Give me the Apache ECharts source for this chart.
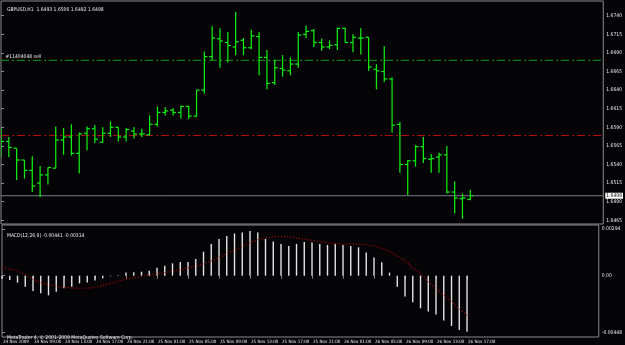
<!DOCTYPE html>
<html>
<head>
<meta charset="utf-8">
<script src="https://cdn.jsdelivr.net/npm/echarts@6/dist/echarts.min.js"></script>
<style>
html,body{margin:0;padding:0;background:#040306;}
#chart{width:625px;height:345px;}
</style>
</head>
<body>
<div id="chart"></div>
<script>
var symbolTitle = 'GBPUSD,H1';
var times = [
 '24 Nov 05:00','24 Nov 06:00','24 Nov 07:00','24 Nov 08:00','24 Nov 09:00','24 Nov 10:00','24 Nov 11:00','24 Nov 12:00',
 '24 Nov 13:00','24 Nov 14:00','24 Nov 15:00','24 Nov 16:00','24 Nov 17:00','24 Nov 18:00','24 Nov 19:00','24 Nov 20:00',
 '24 Nov 21:00','24 Nov 22:00','24 Nov 23:00',
 '25 Nov 00:00','25 Nov 01:00','25 Nov 02:00','25 Nov 03:00','25 Nov 04:00','25 Nov 05:00','25 Nov 06:00','25 Nov 07:00',
 '25 Nov 08:00','25 Nov 09:00','25 Nov 10:00','25 Nov 11:00','25 Nov 12:00','25 Nov 13:00','25 Nov 14:00','25 Nov 15:00',
 '25 Nov 16:00','25 Nov 17:00','25 Nov 18:00','25 Nov 19:00','25 Nov 20:00','25 Nov 21:00','25 Nov 22:00','25 Nov 23:00',
 '26 Nov 00:00','26 Nov 01:00','26 Nov 02:00','26 Nov 03:00','26 Nov 04:00','26 Nov 05:00','26 Nov 06:00','26 Nov 07:00',
 '26 Nov 08:00','26 Nov 09:00','26 Nov 10:00','26 Nov 11:00','26 Nov 12:00','26 Nov 13:00','26 Nov 14:00','26 Nov 15:00',
 '26 Nov 16:00','26 Nov 17:00'
];
var firstTimeLabel = '24 Nov 2009';
var opens = [1.6560,1.6571,1.6562,1.6546,1.6532,1.6515,1.6526,1.6535,1.6573,1.6577,
 1.6555,1.6582,1.6588,1.6570,1.6582,1.6590,1.6577,1.6585,1.6581,1.6580,
 1.6594,1.6610,1.6613,1.6610,1.6618,1.6605,1.6640,1.6685,1.6709,1.6704,
 1.6698,1.6707,1.6697,1.6712,1.6684,1.6650,1.6669,1.6666,1.6675,1.6715,
 1.6720,1.6704,1.6698,1.6701,1.6723,1.6704,1.6710,1.6711,1.6668,1.6665,
 1.6655,1.6594,1.6540,1.6545,1.6564,1.6547,1.6550,1.6553,1.6503,1.6494,1.6493];
var highs = [1.6589,1.6577,1.6562,1.6546,1.6551,1.6538,1.6536,1.6591,1.6589,1.6594,
 1.6583,1.6591,1.6593,1.6590,1.6598,1.6590,1.6589,1.6590,1.6588,1.6606,
 1.6618,1.6617,1.6616,1.6619,1.6619,1.6640,1.6692,1.6726,1.6723,1.6718,
 1.6745,1.6710,1.6721,1.6718,1.6694,1.6681,1.6687,1.6684,1.6718,1.6727,
 1.6722,1.6709,1.6707,1.6724,1.6724,1.6715,1.6723,1.6711,1.6675,1.6699,
 1.6657,1.6597,1.6546,1.6566,1.6577,1.6554,1.6556,1.6565,1.6517,1.6501,1.6506];
var lows = [1.6550,1.6550,1.6519,1.6521,1.6503,1.6496,1.6513,1.6535,1.6553,1.6552,
 1.6528,1.6559,1.6569,1.6569,1.6577,1.6571,1.6571,1.6575,1.6577,1.6579,
 1.6591,1.6606,1.6606,1.6602,1.6601,1.6604,1.6635,1.6680,1.6670,1.6677,
 1.6687,1.6687,1.6695,1.6660,1.6641,1.6647,1.6658,1.6660,1.6670,1.6710,
 1.6698,1.6693,1.6695,1.6694,1.6704,1.6691,1.6688,1.6666,1.6641,1.6651,
 1.6583,1.6529,1.6499,1.6537,1.6542,1.6529,1.6529,1.6501,1.6474,1.6467,1.6492];
var closes = [1.6571,1.6563,1.6546,1.6532,1.6511,1.6526,1.6536,1.6573,1.6577,1.6555,
 1.6581,1.6588,1.6574,1.6582,1.6590,1.6577,1.6587,1.6581,1.6581,1.6594,
 1.6610,1.6612,1.6610,1.6618,1.6605,1.6640,1.6685,1.6710,1.6706,1.6700,
 1.6705,1.6697,1.6713,1.6684,1.6649,1.6670,1.6667,1.6675,1.6714,1.6719,
 1.6704,1.6698,1.6700,1.6723,1.6704,1.6711,1.6710,1.6671,1.6666,1.6655,
 1.6593,1.6540,1.6545,1.6564,1.6548,1.6548,1.6553,1.6503,1.6495,1.6495,1.6498];
var macdMain = [-0.00024,-0.00034,-0.00055,-0.00087,-0.00120,-0.00139,-0.00155,-0.00126,-0.00100,-0.00087,
 -0.00061,-0.00053,-0.00039,-0.00021,-0.00004,0.00004,0.00024,0.00026,0.00031,0.00039,
 0.00063,0.00079,0.00097,0.00108,0.00108,0.00131,0.00189,0.00250,0.00289,0.00313,
 0.00333,0.00339,0.00352,0.00339,0.00289,0.00270,0.00250,0.00234,0.00250,0.00265,
 0.00262,0.00250,0.00242,0.00250,0.00242,0.00234,0.00223,0.00183,0.00144,0.00105,
 0.00024,-0.00087,-0.00165,-0.00210,-0.00257,-0.00283,-0.00305,-0.00354,-0.00396,-0.00428,-0.00441];
var macdSignal = [0.00063,0.00051,0.00039,0.00008,-0.00028,-0.00055,-0.00071,-0.00083,-0.00091,-0.00097,
 -0.00100,-0.00098,-0.00093,-0.00079,-0.00059,-0.00043,-0.00029,-0.00017,-0.00006,0.00006,
 0.00016,0.00024,0.00035,0.00047,0.00061,0.00076,0.00094,0.00116,0.00142,0.00173,
 0.00201,0.00232,0.00260,0.00283,0.00295,0.00307,0.00309,0.00307,0.00295,0.00287,
 0.00278,0.00268,0.00257,0.00252,0.00250,0.00250,0.00250,0.00244,0.00232,0.00217,
 0.00189,0.00157,0.00118,0.00063,0.00016,-0.00047,-0.00102,-0.00152,-0.00205,-0.00260,-0.00314];
var priceTicks = [1.6465,1.6490,1.6515,1.6540,1.6565,1.6590,1.6615,1.6640,1.6665,1.6690,1.6715,1.6740];
var orderPrice = 1.6680;
var orderLabel = '#11404048 sell';
var stopPrice = 1.6579;
var bidPrice = 1.6498;
var macdLabelTexts = ['0.00294', '0.00', '-0.00448'];
var macdTitle = 'MACD(12,26,9) -0.00441 -0.00314';
var copyright = 'MetaTrader 4, \u00a9 2001-2009 MetaQuotes Software Corp.';

var FONT = "'DejaVu Sans Condensed','Liberation Sans Narrow','Liberation Sans',sans-serif";
var FS = 5;
var FS_X = 4.5;
var TXT = '#eeeeee';
var FRAME = '#8a8a8a';

var X_MIN = 0, X_MAX = 77;
var ohlc = opens.map(function(o, i){ return [i, o, highs[i], lows[i], closes[i]]; });
var histData = macdMain.map(function(v, i){ return [i, v]; });
var sigData = macdSignal.map(function(v, i){ return [i, v]; });
var xTickIdx = [];
for (var k = 0; k < times.length; k += 4) xTickIdx.push(k);

var macdMax = 0.00399, macdMin = -0.00483;
var macdLabelPos = [0.00368, 0, -0.00448];

function levelLine(price, color, type){
  return {type: 'line', xAxisIndex: 0, yAxisIndex: 0, silent: true, z: 2,
    symbol: 'none', data: [[X_MIN, price], [X_MAX, price]],
    lineStyle: {color: color, type: type, width: 1}};
}

var orderSeries = levelLine(orderPrice, '#0a9a0a', [8, 3, 2, 3]);
orderSeries.symbol = 'circle';
orderSeries.symbolSize = 1;
orderSeries.itemStyle = {color: 'rgba(0,0,0,0)'};
orderSeries.data = [
  {value: [X_MIN, orderPrice], label: {show: true, position: 'right', offset: [-1, -4], formatter: orderLabel,
    color: TXT, fontSize: FS, fontFamily: FONT}},
  [X_MAX, orderPrice]
];
var stopSeries = levelLine(stopPrice, '#b01010', [8, 3, 2, 3]);
var bidSeries = levelLine(bidPrice, '#747c88', 'solid');
bidSeries.endLabel = {show: true, formatter: bidPrice.toFixed(4), color: '#000', backgroundColor: '#ffffff',
  fontSize: FS, fontFamily: FONT, padding: [1, 1, 0, 1], distance: 2};

var chart = echarts.init(document.getElementById('chart'), null, {renderer: 'canvas'});
var last = opens.length - 1;
var tstyle = {color: TXT, fontSize: FS, fontWeight: 'normal', fontFamily: FONT};
chart.setOption({
  backgroundColor: '#040306',
  animation: false,
  textStyle: {fontFamily: FONT},
  title: [
    {text: symbolTitle + '  ' + opens[last].toFixed(4) + ' ' + highs[last].toFixed(4) + ' ' + lows[last].toFixed(4) + ' ' + closes[last].toFixed(4),
     left: 2, top: 2, textStyle: tstyle},
    {text: macdTitle, left: 2, top: 228, textStyle: tstyle},
    {text: copyright, left: 2, top: 330, textStyle: tstyle}
  ],
  grid: [
    {left: 1, top: 1, width: 605, height: 223, show: true, borderColor: FRAME, borderWidth: 1, backgroundColor: 'transparent'},
    {left: 1, top: 225, width: 605, height: 112, show: true, borderColor: FRAME, borderWidth: 1, backgroundColor: 'transparent'}
  ],
  xAxis: [
    {type: 'value', gridIndex: 0, min: X_MIN, max: X_MAX, interval: 4, axisLine: {show: false}, axisTick: {show: false}, axisLabel: {show: false}, splitLine: {show: false}},
    {type: 'value', gridIndex: 1, min: X_MIN, max: X_MAX, interval: 4, position: 'bottom',
     axisLine: {show: false},
     axisTick: {show: true, length: 3, lineStyle: {color: FRAME}, customValues: xTickIdx},
     axisLabel: {show: true, color: TXT, fontSize: FS_X, fontFamily: FONT, margin: 2, align: 'left', padding: [0,0,0,1],
       customValues: xTickIdx, hideOverlap: false,
       formatter: function(v){ var i = Math.round(v); if (i === 0) return firstTimeLabel; return times[i] || ''; }},
     splitLine: {show: false}}
  ],
  yAxis: [
    {type: 'value', gridIndex: 0, position: 'right', min: 1.64600, max: 1.67598,
     axisLine: {show: false},
     axisTick: {show: true, length: 3, inside: false, lineStyle: {color: FRAME}, customValues: priceTicks},
     axisLabel: {show: true, color: TXT, fontSize: FS, fontFamily: FONT, margin: 3, customValues: priceTicks,
       formatter: function(v){ return v.toFixed(4); }},
     splitLine: {show: false}},
    {type: 'value', gridIndex: 1, position: 'right', min: macdMin, max: macdMax,
     axisLine: {show: false},
     axisTick: {show: true, length: 3, lineStyle: {color: FRAME}, customValues: macdLabelPos},
     axisLabel: {show: true, color: TXT, fontSize: FS, fontFamily: FONT, margin: 3, customValues: macdLabelPos,
       formatter: function(v){ return v > 0 ? macdLabelTexts[0] : (v < 0 ? macdLabelTexts[2] : macdLabelTexts[1]); }},
     splitLine: {show: false}}
  ],
  series: [
    orderSeries,
    stopSeries,
    bidSeries,
    {
      type: 'custom', xAxisIndex: 0, yAxisIndex: 0, data: ohlc, clip: true, z: 3,
      encode: {x: 0, y: [1, 2, 3, 4]},
      renderItem: function(params, api){
        var x = api.value(0);
        var o = api.coord([x, api.value(1)]);
        var h = api.coord([x, api.value(2)]);
        var l = api.coord([x, api.value(3)]);
        var c = api.coord([x, api.value(4)]);
        var st = {stroke: '#10ec10', lineWidth: 1.25};
        var w = 3;
        return {type: 'group', children: [
          {type: 'line', shape: {x1: h[0], y1: h[1], x2: l[0], y2: l[1]}, style: st},
          {type: 'line', shape: {x1: o[0] - w, y1: o[1], x2: o[0], y2: o[1]}, style: st},
          {type: 'line', shape: {x1: c[0], y1: c[1], x2: c[0] + w, y2: c[1]}, style: st}
        ]};
      }
    },
    {
      type: 'bar', xAxisIndex: 1, yAxisIndex: 1, data: histData, barWidth: 1.4,
      itemStyle: {color: '#e4e4e4'}, silent: true
    },
    {
      type: 'line', xAxisIndex: 1, yAxisIndex: 1, data: sigData, symbol: 'none', silent: true,
      lineStyle: {color: '#b00808', type: [1, 2], width: 1.2}
    }
  ]
});
</script>
</body>
</html>
